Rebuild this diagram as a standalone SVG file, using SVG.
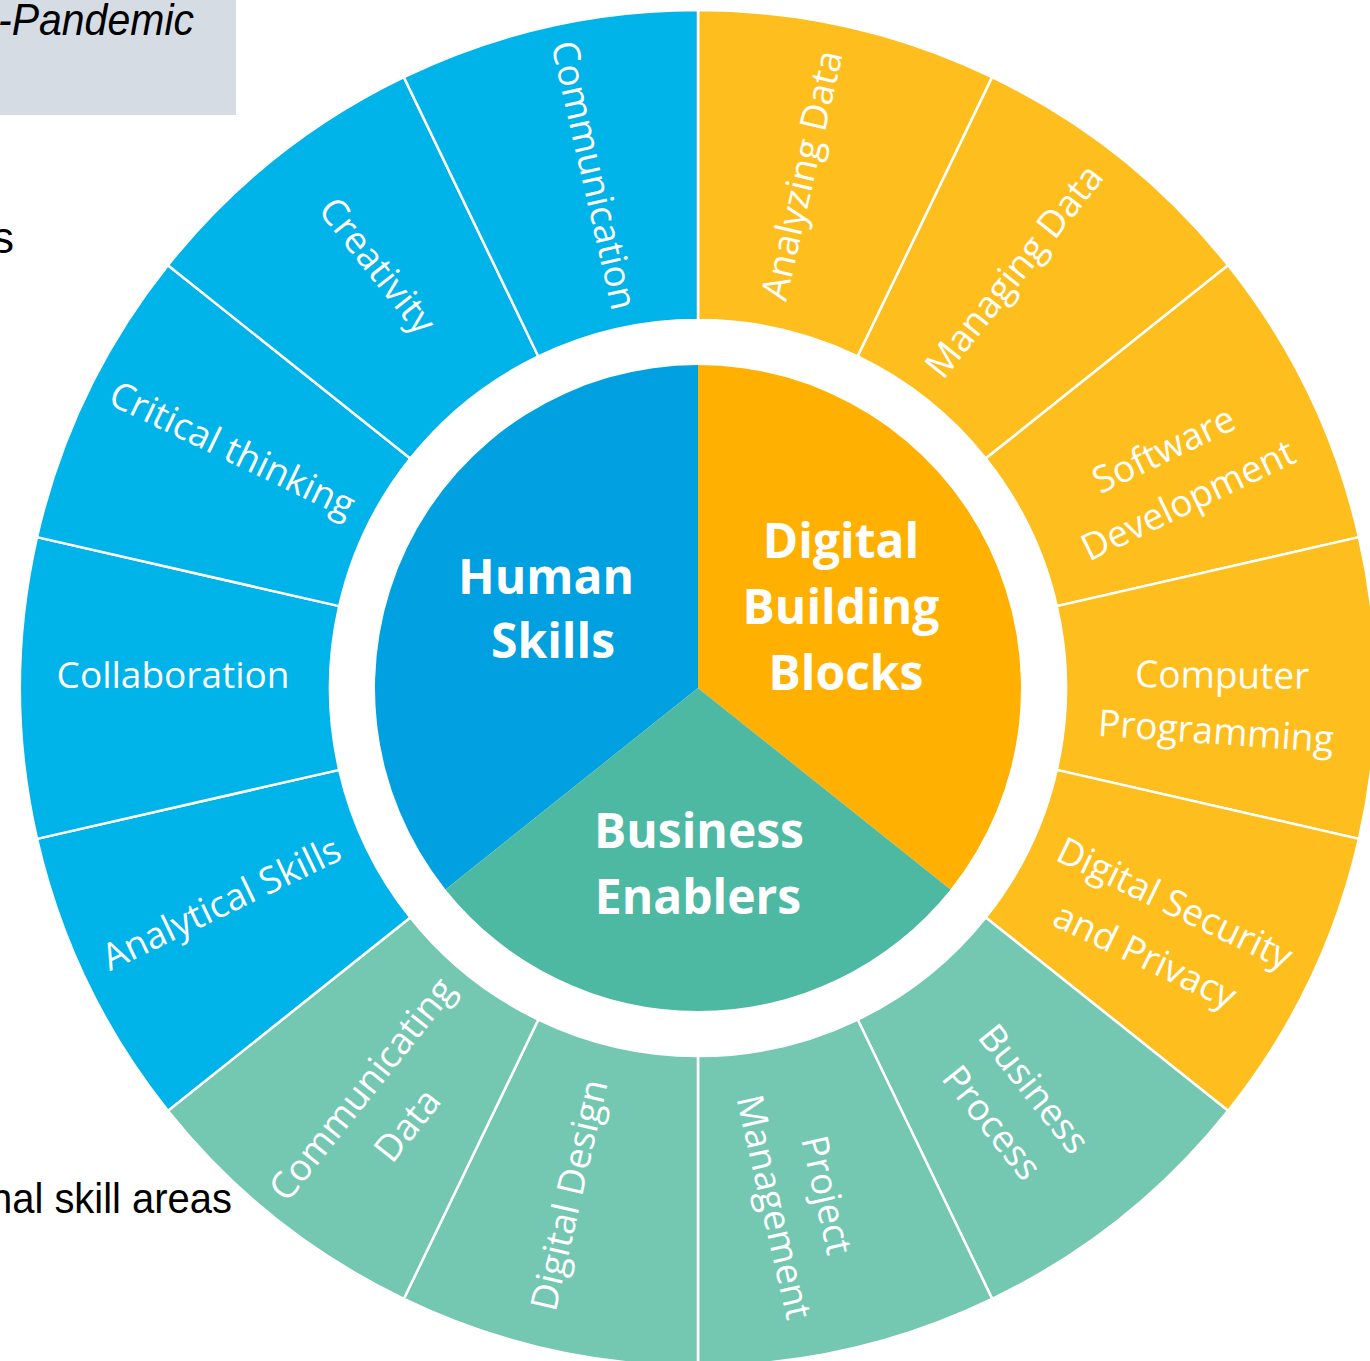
<svg xmlns="http://www.w3.org/2000/svg" width="1370" height="1361" viewBox="0 0 1370 1361">
<style>
.seg{stroke:#ffffff;stroke-width:2.5;stroke-linejoin:miter}
.hb{fill:#00B3E8}
.db{fill:#FDBE1E}
.be{fill:#74C7B1}
.lbl{font-family:"Open Sans","DejaVu Sans",sans-serif;font-size:37px;fill:#ffffff;text-anchor:middle}
.core{font-family:"Open Sans","DejaVu Sans",sans-serif;font-size:48px;font-weight:700;fill:#ffffff;text-anchor:middle}
.side{font-family:"Liberation Sans",Arial,sans-serif;fill:#000000}
</style>
<rect x="0" y="0" width="1370" height="1361" fill="#ffffff"/>

<g id="side-notes">
  <rect x="0" y="0" width="236" height="115" fill="#D6DCE4"/>
  <text class="side" x="-2" y="35" font-size="44" font-style="italic" textLength="196" lengthAdjust="spacingAndGlyphs">-Pandemic</text>
  <text class="side" x="-8" y="253" font-size="44">s</text>
  <text class="side" x="-10" y="1213" font-size="42" textLength="242" lengthAdjust="spacingAndGlyphs">nal skill areas</text>
</g>

<g id="connectors"></g>

<g id="outer-ring">
  <g id="seg-analyzing-data">
    <path class="seg db" d="M698,10 A678,678 0 0 1 992.17,77.14 L857.67,356.44 A368,368 0 0 0 698,320 Z"/>
    <text class="lbl" transform="translate(814.38,178.11) rotate(-77.143)">Analyzing Data</text>
  </g>
  <g id="seg-managing-data">
    <path class="seg db" d="M992.17,77.14 A678,678 0 0 1 1228.08,265.27 L985.71,458.56 A368,368 0 0 0 857.67,356.44 Z"/>
    <text class="lbl" transform="translate(1024.09,279.10) rotate(-51.429)">Managing Data</text>
  </g>
  <g id="seg-software-development">
    <path class="seg db" d="M1228.08,265.27 A678,678 0 0 1 1359,537.13 L1056.77,606.11 A368,368 0 0 0 985.71,458.56 Z"/>
    <text class="lbl" transform="translate(1169.21,461.08) rotate(-25.714)"><tspan x="0" y="0">Software</tspan><tspan x="0" y="56">Development</tspan></text>
  </g>
  <g id="seg-computer-programming">
    <path class="seg db" d="M1359,537.13 A678,678 0 0 1 1359,838.87 L1056.77,769.89 A368,368 0 0 0 1056.77,606.11 Z"/>
    <text class="lbl" x="1222" y="688" transform="rotate(0.6 1222 688)">Computer</text>
    <text class="lbl" x="1215" y="744" transform="rotate(4 1215 744)">Programming</text>
  </g>
  <g id="seg-digital-security">
    <path class="seg db" d="M1359,838.87 A678,678 0 0 1 1228.08,1110.73 L985.71,917.44 A368,368 0 0 0 1056.77,769.89 Z"/>
    <text class="lbl" transform="translate(1169.21,914.92) rotate(25.714)"><tspan x="0" y="0">Digital Security</tspan><tspan x="-4" y="60">and Privacy</tspan></text>
  </g>
  <g id="seg-business-process">
    <path class="seg be" d="M1228.08,1110.73 A678,678 0 0 1 992.17,1298.86 L857.67,1019.56 A368,368 0 0 0 985.71,917.44 Z"/>
    <text class="lbl" transform="translate(1024.09,1096.90) rotate(51.429)"><tspan x="0" y="0">Business</tspan><tspan x="0" y="54">Process</tspan></text>
  </g>
  <g id="seg-project-management">
    <path class="seg be" d="M992.17,1298.86 A678,678 0 0 1 698,1366 L698,1056 A368,368 0 0 0 857.67,1019.56 Z"/>
    <text class="lbl" transform="translate(814.38,1197.89) rotate(77.143)"><tspan x="0" y="0">Project</tspan><tspan x="0" y="54">Management</tspan></text>
  </g>
  <g id="seg-digital-design">
    <path class="seg be" d="M698,1366 A678,678 0 0 1 403.83,1298.86 L538.33,1019.56 A368,368 0 0 0 698,1056 Z"/>
    <text class="lbl" transform="translate(581.62,1197.89) rotate(-77.143)">Digital Design</text>
  </g>
  <g id="seg-communicating-data">
    <path class="seg be" d="M403.83,1298.86 A678,678 0 0 1 167.92,1110.73 L410.29,917.44 A368,368 0 0 0 538.33,1019.56 Z"/>
    <text class="lbl" transform="translate(371.91,1096.90) rotate(-51.429)"><tspan x="0" y="0">Communicating</tspan><tspan x="0" y="58">Data</tspan></text>
  </g>
  <g id="seg-analytical-skills">
    <path class="seg hb" d="M167.92,1110.73 A678,678 0 0 1 37,838.87 L339.23,769.89 A368,368 0 0 0 410.29,917.44 Z"/>
    <text class="lbl" transform="translate(226.79,914.92) rotate(-25.714)">Analytical Skills</text>
  </g>
  <g id="seg-collaboration">
    <path class="seg hb" d="M37,838.87 A678,678 0 0 1 37,537.13 L339.23,606.11 A368,368 0 0 0 339.23,769.89 Z"/>
    <text class="lbl" transform="translate(173,688)">Collaboration</text>
  </g>
  <g id="seg-critical-thinking">
    <path class="seg hb" d="M37,537.13 A678,678 0 0 1 167.92,265.27 L410.29,458.56 A368,368 0 0 0 339.23,606.11 Z"/>
    <text class="lbl" transform="translate(226.79,461.08) rotate(25.714)">Critical thinking</text>
  </g>
  <g id="seg-creativity">
    <path class="seg hb" d="M167.92,265.27 A678,678 0 0 1 403.83,77.14 L538.33,356.44 A368,368 0 0 0 410.29,458.56 Z"/>
    <text class="lbl" transform="translate(367.55,273.63) rotate(51.429)">Creativity</text>
  </g>
  <g id="seg-communication">
    <path class="seg hb" d="M403.83,77.14 A678,678 0 0 1 698,10 L698,320 A368,368 0 0 0 538.33,356.44 Z"/>
    <text class="lbl" transform="translate(581.62,178.11) rotate(77.143)">Communication</text>
  </g>
</g>

<g id="core">
  <g id="core-human-skills">
    <path d="M698,688 L445.47,889.39 A323,323 0 0 1 698,365 Z" fill="#00A0E1"/>
    <text class="core" x="546" y="594">Human</text>
    <text class="core" x="553" y="658">Skills</text>
  </g>
  <g id="core-digital-building-blocks">
    <path d="M698,688 L698,365 A323,323 0 0 1 950.53,889.39 Z" fill="#FFB000"/>
    <text class="core" x="841" y="558">Digital</text>
    <text class="core" x="841" y="624">Building</text>
    <text class="core" x="846" y="690">Blocks</text>
  </g>
  <g id="core-business-enablers">
    <path d="M698,688 L950.53,889.39 A323,323 0 0 1 445.47,889.39 Z" fill="#4DB9A2"/>
    <text class="core" x="699" y="848">Business</text>
    <text class="core" x="698" y="914">Enablers</text>
  </g>
</g>
</svg>
